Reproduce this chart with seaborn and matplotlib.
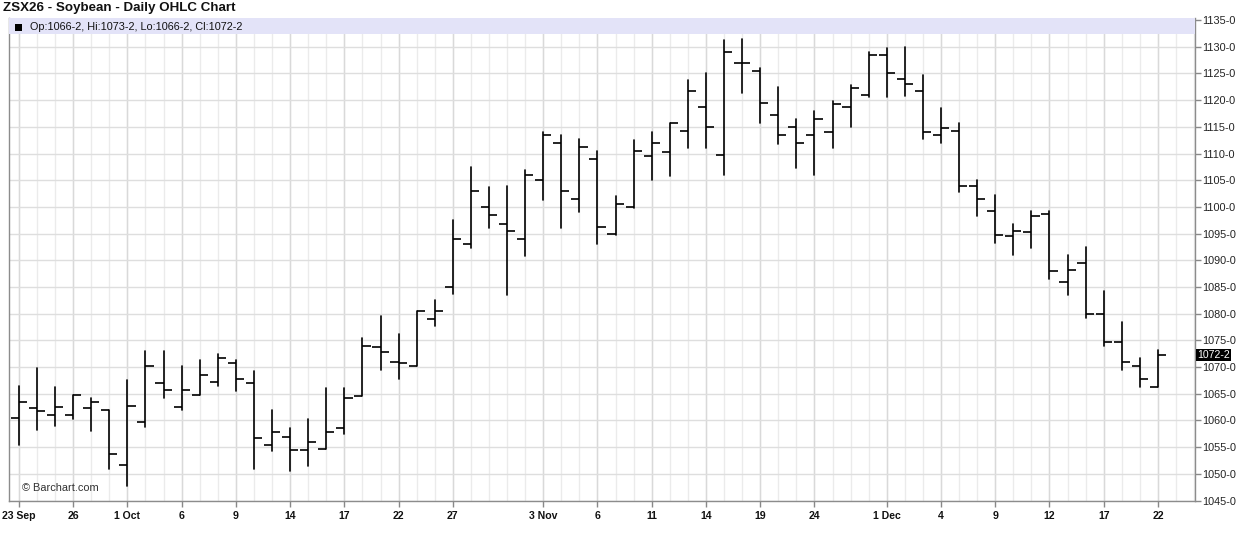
import numpy as np
import pandas as pd
import matplotlib
matplotlib.use("Agg")
import matplotlib.pyplot as plt
import seaborn as sns
from matplotlib.patches import Rectangle
from matplotlib.transforms import blended_transform_factory

# ---- data ----
trade_dates = pd.bdate_range("2025-09-23", "2025-12-22")
trade_dates = trade_dates[trade_dates != pd.Timestamp("2025-11-27")]  # Thanksgiving

opens = [1060.5, 1062.25, 1061.0, 1061.0, 1062.25, 1062.0, 1051.75, 1059.75, 1067.0, 1062.5,
         1064.75, 1067.25, 1070.75, 1067.0, 1055.5, 1057.0, 1054.5, 1054.75, 1058.5, 1064.5,
         1073.75, 1071.0, 1070.25, 1079.0, 1085.0, 1093.0, 1100.0, 1096.75, 1094.0, 1105.0,
         1112.0, 1101.5, 1109.0, 1095.0, 1100.0, 1109.5, 1110.25, 1114.25, 1118.75, 1109.75,
         1127.0, 1125.5, 1117.25, 1115.0, 1113.5, 1114.0, 1118.75, 1121.0, 1128.5, 1124.0,
         1121.75, 1113.5, 1114.25, 1104.0, 1099.25, 1094.5, 1095.25, 1098.75, 1086.0, 1089.5,
         1080.0, 1074.75, 1070.25, 1066.25]
highs = [1066.5, 1069.75, 1066.25, 1064.75, 1064.25, 1062.0, 1067.5, 1073.0, 1073.0, 1070.25,
         1071.25, 1072.5, 1071.25, 1069.25, 1062.0, 1058.5, 1060.25, 1066.0, 1066.0, 1075.5,
         1079.5, 1076.25, 1080.5, 1082.5, 1097.5, 1107.5, 1103.75, 1104.0, 1107.0, 1114.0,
         1113.5, 1112.75, 1110.5, 1102.0, 1112.5, 1114.0, 1115.75, 1123.75, 1125.0, 1131.25,
         1131.5, 1126.0, 1122.5, 1116.5, 1118.0, 1119.75, 1122.75, 1129.0, 1129.75, 1130.0,
         1124.75, 1118.5, 1115.75, 1105.0, 1102.25, 1096.75, 1099.25, 1099.25, 1091.0, 1092.5,
         1084.25, 1078.5, 1071.75, 1073.25]
lows = [1055.5, 1058.25, 1059.0, 1060.25, 1058.0, 1051.0, 1047.75, 1058.75, 1064.25, 1062.0,
        1064.75, 1066.5, 1065.5, 1051.0, 1054.25, 1050.5, 1051.5, 1054.75, 1057.5, 1064.5,
        1069.5, 1067.75, 1070.25, 1077.75, 1083.75, 1092.25, 1096.0, 1083.5, 1090.75, 1101.25,
        1096.0, 1099.0, 1093.0, 1094.75, 1099.75, 1105.0, 1105.75, 1111.0, 1111.0, 1106.0,
        1121.25, 1115.75, 1111.75, 1107.25, 1106.0, 1111.0, 1115.0, 1120.5, 1120.5, 1120.75,
        1112.75, 1112.0, 1102.75, 1098.25, 1093.25, 1091.0, 1092.25, 1086.5, 1083.5, 1079.25,
        1074.0, 1069.5, 1066.25, 1066.25]
closes = [1063.5, 1061.75, 1062.5, 1064.75, 1063.5, 1053.75, 1062.75, 1070.25, 1065.75, 1065.75,
          1068.5, 1071.75, 1067.75, 1056.75, 1057.75, 1054.5, 1056.0, 1057.75, 1064.25, 1074.0,
          1072.75, 1070.75, 1080.5, 1080.5, 1094.0, 1103.0, 1098.5, 1095.5, 1106.0, 1113.5,
          1103.0, 1111.25, 1096.25, 1100.5, 1110.5, 1112.0, 1115.75, 1121.75, 1115.0, 1129.0,
          1127.0, 1119.5, 1113.5, 1112.0, 1116.5, 1119.25, 1122.25, 1128.5, 1125.0, 1123.0,
          1114.0, 1114.75, 1104.0, 1101.5, 1094.75, 1095.5, 1098.25, 1088.0, 1088.25, 1080.0,
          1074.75, 1071.0, 1067.75, 1072.25]

tick_dates = ["2025-09-23", "2025-09-26", "2025-10-01", "2025-10-06", "2025-10-09", "2025-10-14",
              "2025-10-17", "2025-10-22", "2025-10-27", "2025-11-03", "2025-11-06", "2025-11-11",
              "2025-11-14", "2025-11-19", "2025-11-24", "2025-12-01", "2025-12-04", "2025-12-09",
              "2025-12-12", "2025-12-17", "2025-12-22"]
tick_labels = ["23 Sep", "26", "1 Oct", "6", "9", "14", "17", "22", "27", "3 Nov", "6", "11",
               "14", "19", "24", "1 Dec", "4", "9", "12", "17", "22"]
price_ticks = list(range(1045, 1136, 5))
last_label = "1072-2"
legend_text = "Op:1066-2, Hi:1073-2, Lo:1066-2, Cl:1072-2"
title_text = "ZSX26 - Soybean - Daily OHLC Chart"

# ---- figure ----
sns.set_theme(style="white")
plt.rcParams['font.family'] = ['Liberation Sans', 'DejaVu Sans']

W, H = 1236, 542
fig = plt.figure(figsize=(W / 100, H / 100), dpi=100)
L_px, R_px, T_px, B_px = 9, 1195, 18, 501
ax = fig.add_axes([L_px / W, 1 - B_px / H, (R_px - L_px) / W, (B_px - T_px) / H])

x = np.arange(len(trade_dates))
pos = {d.strftime("%Y-%m-%d"): i for i, d in enumerate(trade_dates)}

df_hl = pd.DataFrame({
    "x": np.repeat(x, 2),
    "price": np.column_stack([lows, highs]).ravel(),
    "bar": np.repeat(x, 2),
})
sns.lineplot(data=df_hl, x="x", y="price", units="bar", estimator=None, sort=False,
             color="black", lw=1.2, ax=ax, legend=False, zorder=5)
tick_w = 0.45
ax.hlines(opens, x - tick_w, x, color="black", lw=1.2, zorder=5)
ax.hlines(closes, x, x + tick_w, color="black", lw=1.2, zorder=5)

ax.set_xlim(-0.55, 65.05)
ax.set_ylim(1044.92, 1135.38)

# grid
for i in range(0, 66):
    ax.axvline(i, color="#ebebeb", lw=1, zorder=0.5)
major_x = [pos[d] for d in tick_dates]
for i in major_x:
    ax.axvline(i, color="#d9d9d9", lw=1, zorder=0.6)
for p in price_ticks:
    ax.axhline(p, color="#dedede", lw=1, zorder=0.6)

ax.set_xticks(major_x)
ax.set_xticklabels(tick_labels, fontsize=7.6, fontweight="bold", color="#111111")
ax.yaxis.tick_right()
ax.set_yticks(price_ticks)
ax.set_yticklabels([f"{p}-0" for p in price_ticks], fontsize=7.8, color="#222222")
ax.tick_params(axis="x", bottom=True, length=4, width=1, color="#888888", pad=3)
ax.tick_params(axis="y", right=True, left=False, length=4, width=1, color="#888888", pad=1)
ax.set_xlabel("")
ax.set_ylabel("")

for s in ["left", "bottom", "right"]:
    ax.spines[s].set_visible(True)
    ax.spines[s].set_color("#8c8c8c")
    ax.spines[s].set_linewidth(1)
ax.spines["top"].set_visible(False)

# legend band
ah = B_px - T_px
aw = R_px - L_px
ax.add_patch(Rectangle((0, 1 - 16 / ah), 1, 16 / ah, transform=ax.transAxes,
                       facecolor="#e3e3f8", edgecolor="none", zorder=3, clip_on=False))
ax.add_patch(Rectangle(((15 - L_px) / aw, 1 - (31 - T_px) / ah), 7 / aw, 7 / ah,
                       transform=ax.transAxes, facecolor="black", edgecolor="none", zorder=4))
ax.text((30 - L_px) / aw, 1 - 9.5 / ah, legend_text, transform=ax.transAxes,
        fontsize=7.8, va="center", ha="left", color="#111111", zorder=4)

ax.text((22 - L_px) / aw, 1 - (488 - T_px) / ah, "© Barchart.com", transform=ax.transAxes,
        fontsize=7.9, va="center", ha="left", color="#333333", zorder=4)

# last price box
trans = blended_transform_factory(ax.transAxes, ax.transData)
ax.text(1 + 2 / aw, closes[-1], last_label, transform=trans, fontsize=7.6, color="white",
        va="center", ha="left", zorder=6, clip_on=False,
        bbox=dict(boxstyle="square,pad=0.12", facecolor="black", edgecolor="none"))

fig.text(3 / W, 1 - 8.5 / H, title_text, fontsize=9.6, fontweight="bold", va="center",
         ha="left", color="#111111")

fig.savefig("out.png", dpi=100, facecolor="white")
